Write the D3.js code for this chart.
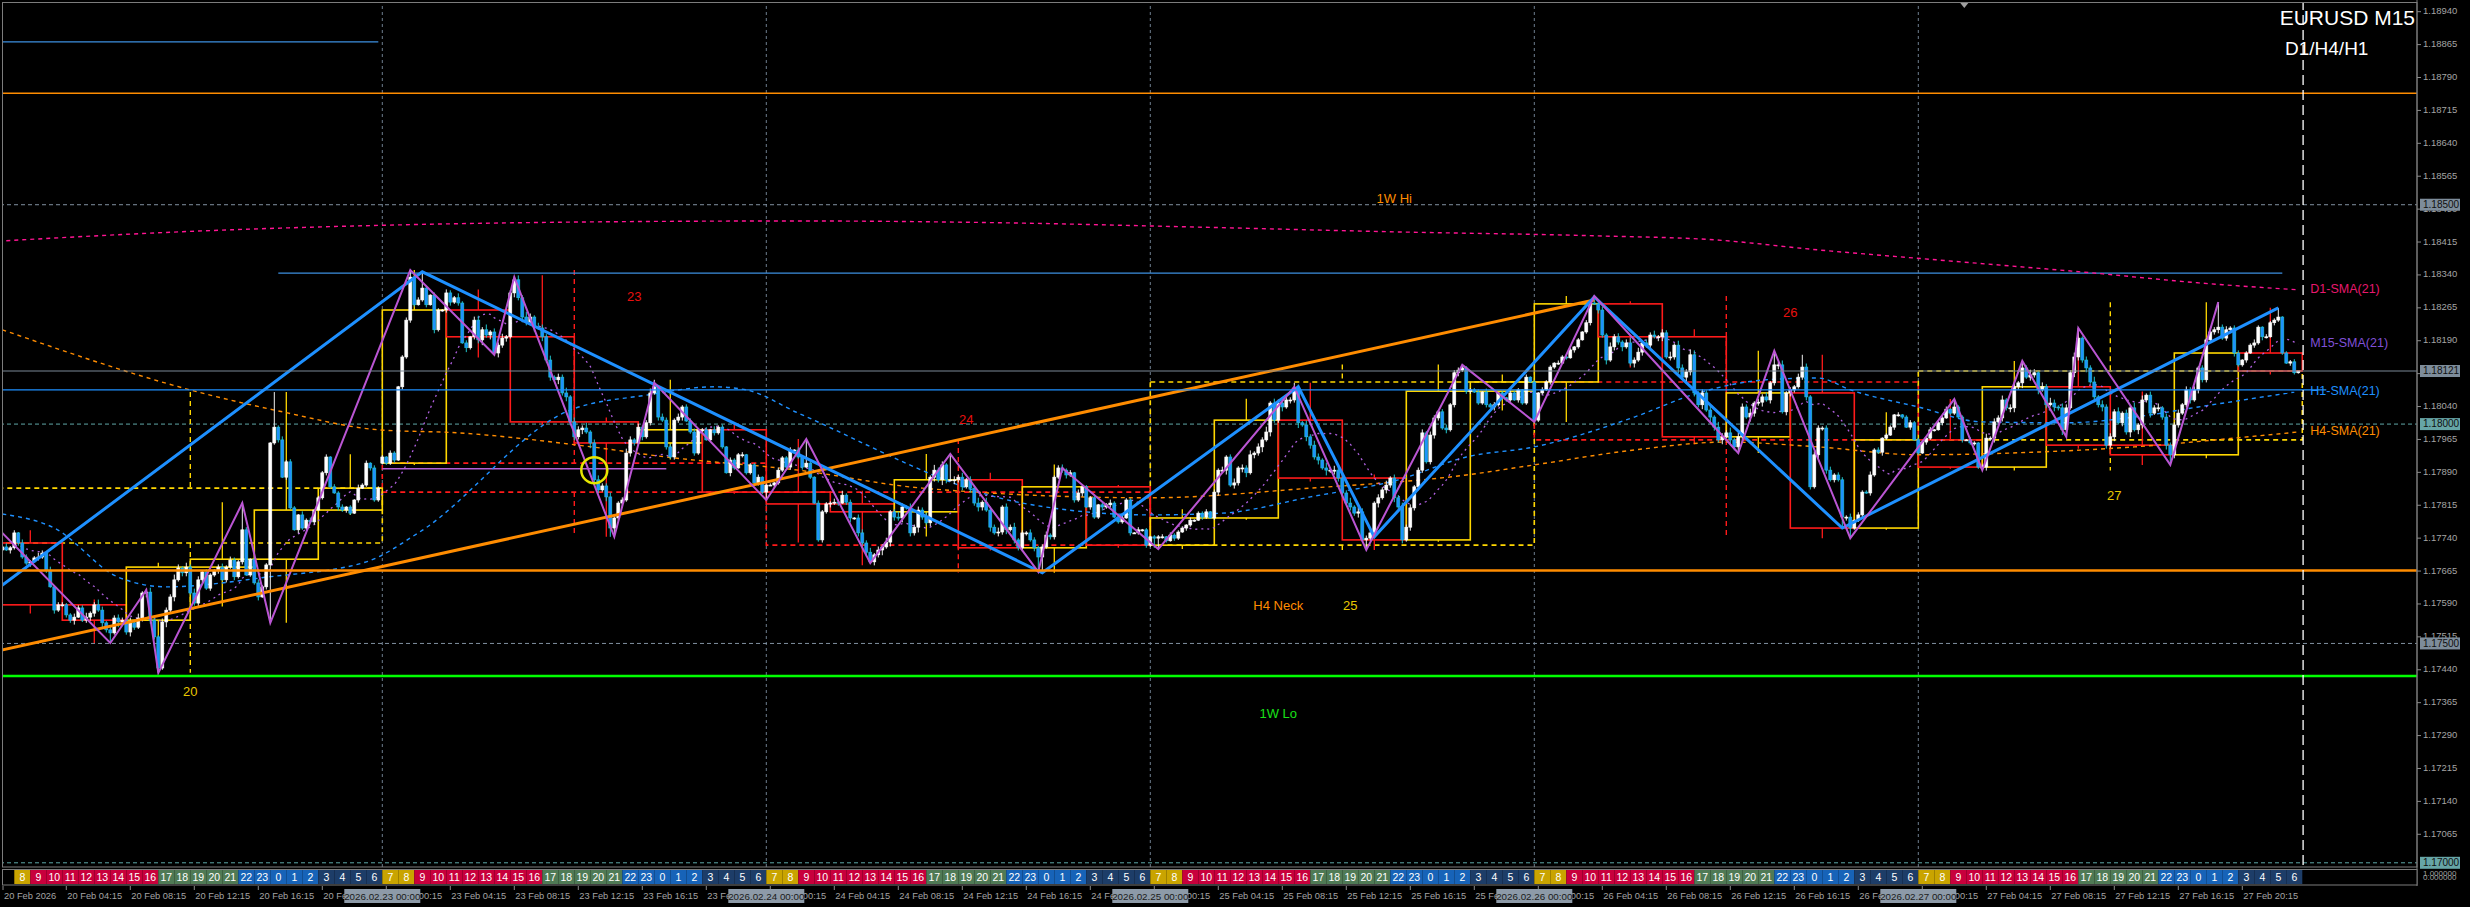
<!DOCTYPE html>
<html><head><meta charset="utf-8">
<script src="https://cdn.jsdelivr.net/npm/d3@7"></script>
<style>html,body{margin:0;padding:0;background:#000;overflow:hidden}svg{display:block}</style>
</head><body>
<svg id="chart" width="2470" height="907"></svg>
<script>
// ================= DATA =================
// prices are stored in points (1e-5) above PRICE_BASE
const PRICE_BASE = 1.17;
// EURUSD M15 closes, 20 Feb 2026 00:00 .. 27 Feb 2026 23:45 (one row = one H4 candle)
const closePts = [
713,720,713,718,752,729,697,683,686,695,697,706,667,629,576,588,
588,565,553,560,581,553,560,569,588,576,547,531,524,558,549,553,
526,547,537,558,615,617,553,515,444,549,576,606,645,672,661,674,
615,592,645,663,626,656,667,674,645,674,690,652,686,759,656,692,
638,606,629,679,957,993,964,879,914,809,759,793,763,781,777,804,
832,889,925,857,843,811,804,811,797,827,854,861,911,900,827,854,
925,911,934,918,1085,1153,1237,1335,1272,1283,1310,1272,1294,1215,1260,1260,
1299,1278,1288,1276,1185,1174,1199,1237,1192,1215,1203,1210,1162,1180,1196,1199,
1299,1329,1288,1244,1233,1244,1221,1219,1199,1146,1107,1101,1107,1071,1062,1005,
971,987,991,982,957,873,850,859,834,763,786,820,827,934,964,957,
993,971,1003,1071,1085,1016,1009,948,925,1009,1016,1039,1007,982,934,987,
987,964,987,980,993,948,889,918,900,930,930,889,907,866,879,845,
861,861,866,895,923,902,941,941,925,902,911,879,820,736,800,818,
820,822,820,838,822,786,786,752,729,708,686,702,713,720,731,800,
788,786,811,809,752,765,804,788,775,879,895,873,907,873,873,873,
879,857,873,854,820,811,822,804,765,752,754,811,759,765,736,718,
752,752,736,718,697,720,747,743,879,900,895,884,889,827,843,857,
811,832,788,816,811,816,820,788,777,786,827,752,752,759,759,724,
743,740,743,743,734,747,740,754,763,770,781,781,797,788,800,786,
845,895,895,925,861,866,900,900,889,930,934,948,964,982,1048,1009,
1048,1039,1055,1055,1082,1003,998,971,952,925,918,900,895,895,895,877,
843,820,811,797,800,736,740,752,820,832,850,861,877,832,811,736,
765,809,857,895,980,914,975,1014,1028,991,987,1044,1117,1123,1128,1075,
1078,1073,1048,1073,1044,1039,1044,1071,1060,1055,1071,1055,1078,1048,1107,1096,
1009,1071,1078,1096,1130,1139,1139,1153,1151,1169,1176,1192,1210,1231,1276,1274,
1260,1203,1146,1176,1199,1187,1176,1185,1139,1146,1164,1185,1180,1203,1199,1199,
1208,1153,1153,1180,1128,1107,1119,1158,1071,1044,1071,1032,1016,993,964,971,
980,964,948,971,1039,1016,1025,1048,1050,1062,1055,1094,1135,1135,1028,1071,
1078,1085,1107,1130,1062,857,930,991,991,895,873,884,873,788,788,763,
781,793,845,843,884,941,936,968,975,993,1021,1021,1016,993,1003,964,
934,959,968,987,987,1003,1014,1034,1025,1039,1016,964,964,957,957,902,
902,968,968,1005,1014,1055,1037,1037,1085,1094,1128,1107,1112,1117,1078,1085,
1044,1048,1039,1037,987,1037,1117,1153,1196,1146,1128,1096,1062,1044,1039,952,
971,1028,1003,1025,982,1037,987,998,1055,1066,1025,1037,1037,1016,952,930,
998,1025,1044,1078,1055,1078,1128,1101,1192,1210,1215,1221,1196,1215,1219,1162,
1135,1146,1162,1180,1185,1221,1199,1199,1231,1237,1244,1162,1139,1142,1117,1121
];
const firstOpenPts = 729;
const mondayBar = 96, mondayOpenPts = 911;
// wick lengths, one digit per bar, in units of WICK_UNIT_PTS points
const WICK_UNIT_PTS = 2;
const wickHiDigits = [
"324231432253142332243352364253432635245324336425354232134243223134221324232142312231323121423132",
"213212321322132143252314536243523453642543524362543624533542354242353243324233422314231322312231",
"221322313212132224352314435243523642534352634254352436254352435232432342234231432231324213221312",
"122313222131223132423524352436254253642535426354436254352435243534234243234233422231423121322131",
"213221323212132234253424635243524362543652435264362543524352435232434243234233241322423122131232",
"221312231322132135243524425364253642543552436253435243625243524334243423243234233122421322312230"];
const wickLoDigits = [
"231423224132314223351234425342633532454332635244234523241324231224132231321422131232142321312322",
"122313232123142234231523463525342536435253425354435263425243524334232423233412323123221421322132",
"213221322312123242313524352436254352436324536425342535425243524343243423323423241322423122131223",
"231221321322132124352435524362533524362543526354524352433524352424343234324234233122314212213221",
"122132212132123143524352352436255243625443526435254362543524352443234324342323422231322421322131",
"213221312213123224352435536243524253642543526354352436254352435243234243323423242231324213221321"];
// extra wick extremes [bar, pts]
const spikeHigh = [[61,822],[69,1073],[106,1347],[164,1101],[238,930],[451,1158],[570,1260]];
const spikeLow  = [[40,433],[68,547],[153,743],[192,827],[289,718]];
// M15 zigzag (violet)
const zzM15Bars = [1,28,37,40,61,68,103,124,129,154,164,192,202,218,238,260,266,290,324,342,366,384,399,435,444,463,489,496,506,517,520,543,555];
const zzM15Pts  = [752,501,622,433,820,547,1351,1158,1335,743,1094,827,966,683,932,663,900,715,1085,713,1135,1005,1292,934,1167,740,1057,895,1144,971,1219,907,1278];
// H1 zigzag (blue)
const zzH1Bars = [0,106,261,325,344,399,461,570];
const zzH1Pts  = [626,1347,661,1085,743,1290,763,1265];
// orange trend line
const trendBars = [0,399];
const trendPts  = [483,1283];
// higher-timeframe SMA(21) values
const smaH1Bars = [1,14,30,42,67,92,105,143,162,179,187,200,256,288,306,328,350,367,384,409,425,442,455,463,480,496,517,534,550,574];
const smaH1Pts  = [795,763,651,629,651,686,752,1032,1066,1085,1078,1025,820,793,797,834,873,925,948,1016,1071,1101,1105,1078,1039,1005,1003,1016,1039,1073];
const smaH4Bars = [1,50,71,95,115,145,167,200,231,288,328,367,384,409,432,455,480,509,534,559,575];
const smaH4Pts  = [1215,1073,1028,987,980,952,925,895,854,832,854,884,907,941,959,948,930,936,948,968,982];
const smaD1Bars = [0,50,100,150,200,250,300,350,400,429,455,485,523,550,575];
const smaD1Pts  = [1417,1440,1454,1461,1463,1459,1449,1438,1429,1420,1397,1374,1345,1322,1306];
const smaLabels = ["D1-SMA(21)","M15-SMA(21)","H1-SMA(21)","H4-SMA(21)"];
// horizontal levels
const levelWeekHi = 1.18754, levelH4Neck = 1.17666, levelWeekLo = 1.17426;
const levelBid = 1.18121, levelH1 = 1.18078;
const levelBlueHi = {from:70, to:571, price:1.18344};
const levelBlueTop = {from:0, to:95, price:1.18871};
const levelViolet = {from:96, to:167, price:1.17898};
const roundGray = [1.18500, 1.17500], roundTeal = [1.18000, 1.17000];
// annotations
const annTexts = ["23","24","26","25","20","27","1W Hi","H4 Neck","1W Lo"];
const annBars  = [159,242,448,338,48,529,349,320,320];
const annPts   = [1288,1009,1253,583,387,834,1511,583,337];
const annKinds = ["red","red","red","gold","gold","gold","orange","orange","green"];
const circleBar = 149, circlePts = 895;
// axes
const priceTicks = [1.17065,1.17140,1.17215,1.17290,1.17365,1.17440,1.17515,1.17590,1.17665,1.17740,1.17815,1.17890,1.17965,1.18040,1.18115,1.18190,1.18265,1.18340,1.18415,1.18490,1.18565,1.18640,1.18715,1.18790,1.18865,1.18940];
const priceMarks = [[1.18500,"gray"],[1.18121,"gray"],[1.18000,"teal"],[1.17500,"gray"],[1.17000,"teal"]];
const timeLabels = ["20 Feb 2026","20 Feb 04:15","20 Feb 08:15","20 Feb 12:15","20 Feb 16:15","20 Feb 20:15",
"23 Feb 00:15","23 Feb 04:15","23 Feb 08:15","23 Feb 12:15","23 Feb 16:15","23 Feb 20:15",
"24 Feb 00:15","24 Feb 04:15","24 Feb 08:15","24 Feb 12:15","24 Feb 16:15","24 Feb 20:15",
"25 Feb 00:15","25 Feb 04:15","25 Feb 08:15","25 Feb 12:15","25 Feb 16:15","25 Feb 20:15",
"26 Feb 00:15","26 Feb 04:15","26 Feb 08:15","26 Feb 12:15","26 Feb 16:15","26 Feb 20:15",
"27 Feb 00:15","27 Feb 04:15","27 Feb 08:15","27 Feb 12:15","27 Feb 16:15","27 Feb 20:15"];
const dayStartLabels = ["2026.02.23 00:00","2026.02.24 00:00","2026.02.25 00:00","2026.02.26 00:00","2026.02.27 00:00"];
const sessionOffsetHours = 7;

// ================= BUILD =================
const P = v => PRICE_BASE + v/1e5;
const N = closePts.length;
const closes = closePts.map(P);
const opens = closePts.map((c,i)=> i===0 ? P(firstOpenPts) : (i===mondayBar ? P(mondayOpenPts) : P(closePts[i-1])));
const wH = wickHiDigits.join(''), wL = wickLoDigits.join('');
const highs = closes.map((c,i)=> Math.max(opens[i],c) + (+(wH[i]||0))*WICK_UNIT_PTS/1e5);
const lows  = closes.map((c,i)=> Math.min(opens[i],c) - (+(wL[i]||0))*WICK_UNIT_PTS/1e5);
spikeHigh.forEach(([b,v])=>{highs[b]=Math.max(highs[b],P(v));});
spikeLow.forEach(([b,v])=>{lows[b]=Math.min(lows[b],P(v));});
function applyExt(bars,pts,skipFirst){bars.forEach((b,k)=>{ if(skipFirst&&k===0)return; const p=P(pts[k]); const mid=(opens[b]+closes[b])/2; if(p>=mid) highs[b]=Math.max(highs[b],p); else lows[b]=Math.min(lows[b],p);});}
applyExt(zzM15Bars,zzM15Pts,false);
applyExt(zzH1Bars,zzH1Pts,true);
const bars = closes.map((c,i)=>({i,o:opens[i],h:highs[i],l:lows[i],c}));
function agg(n){const out=[];for(let s=0;s<N;s+=n){const seg=bars.slice(s,s+n);out.push({s,n,o:seg[0].o,c:seg[seg.length-1].c,h:d3.max(seg,d=>d.h),l:d3.min(seg,d=>d.l)});}return out;}
const h4 = agg(16), d1 = agg(96);
const sma15 = closes.map((c,i)=>{const a=closes.slice(Math.max(0,i-20),i+1);return [i,d3.mean(a)];});

// ================= SCALES =================
const PLOT_R = 2417, MAIN_B = 867;
const FONT = 'Liberation Sans, Arial, sans-serif';
const x = d3.scaleLinear().domain([0,575]).range([-1.7,2298.3]);
const y = d3.scaleLinear().domain([1.17,1.1894]).range([862.8,11.7]);

const svg = d3.select('#chart');
svg.append('rect').attr('width',2470).attr('height',907).attr('fill','#000');
const defs = svg.append('defs');
defs.append('clipPath').attr('id','clipMain').append('rect').attr('x',2).attr('y',2).attr('width',PLOT_R-2).attr('height',MAIN_B-2);
const g = svg.append('g').attr('clip-path','url(#clipMain)');

// day separators
d3.range(96,N,96).forEach(b=>{
  g.append('line').attr('x1',x(b)).attr('x2',x(b)).attr('y1',0).attr('y2',MAIN_B)
   .attr('stroke','#6f7f8f').attr('stroke-width',1).attr('stroke-dasharray','3,3');
});
// round-number dashed levels
roundGray.forEach(p=>g.append('line').attr('x1',0).attr('x2',PLOT_R).attr('y1',y(p)).attr('y2',y(p)).attr('stroke','#8090a0').attr('stroke-dasharray','4,3'));
roundTeal.forEach(p=>g.append('line').attr('x1',0).attr('x2',PLOT_R).attr('y1',y(p)).attr('y2',y(p)).attr('stroke','#5fa8a8').attr('stroke-dasharray','4,3'));

// D1 boxes (dashed)
d1.forEach(d=>{
  const col = d.c>=d.o ? '#ffd700' : '#ff1a1a';
  const x0=x(d.s), x1=x(d.s+d.n), xm=x(d.s+d.n/2);
  const top=y(Math.max(d.o,d.c)), bot=y(Math.min(d.o,d.c));
  g.append('rect').attr('x',x0).attr('y',top).attr('width',x1-x0).attr('height',Math.max(1,bot-top))
    .attr('fill','none').attr('stroke',col).attr('stroke-width',1.6).attr('stroke-dasharray','5,4');
  g.append('line').attr('x1',xm).attr('x2',xm).attr('y1',y(d.h)).attr('y2',top).attr('stroke',col).attr('stroke-width',1.4).attr('stroke-dasharray','5,4');
  g.append('line').attr('x1',xm).attr('x2',xm).attr('y1',bot).attr('y2',y(d.l)).attr('stroke',col).attr('stroke-width',1.4).attr('stroke-dasharray','5,4');
});
// H4 boxes
h4.forEach(d=>{
  const col = d.c>=d.o ? '#ffd700' : '#ff1a1a';
  const x0=x(d.s), x1=x(d.s+d.n), xm=x(d.s+d.n/2);
  const top=y(Math.max(d.o,d.c)), bot=y(Math.min(d.o,d.c));
  g.append('rect').attr('x',x0).attr('y',top).attr('width',x1-x0).attr('height',Math.max(1,bot-top))
    .attr('fill','none').attr('stroke',col).attr('stroke-width',1.6);
  g.append('line').attr('x1',xm).attr('x2',xm).attr('y1',y(d.h)).attr('y2',top).attr('stroke',col).attr('stroke-width',1.3);
  g.append('line').attr('x1',xm).attr('x2',xm).attr('y1',bot).attr('y2',y(d.l)).attr('stroke',col).attr('stroke-width',1.3);
});
// violet short level
g.append('line').attr('x1',x(levelViolet.from)).attr('x2',x(levelViolet.to)).attr('y1',y(levelViolet.price)).attr('y2',y(levelViolet.price)).attr('stroke','#b25fd6').attr('stroke-width',1.5);
// blue levels
g.append('line').attr('x1',x(levelBlueHi.from)).attr('x2',x(levelBlueHi.to)).attr('y1',y(levelBlueHi.price)).attr('y2',y(levelBlueHi.price)).attr('stroke','#3c8fe0').attr('stroke-width',1.3);
g.append('line').attr('x1',x(levelBlueTop.from)).attr('x2',x(levelBlueTop.to)).attr('y1',y(levelBlueTop.price)).attr('y2',y(levelBlueTop.price)).attr('stroke','#3c8fe0').attr('stroke-width',1.3);

// SMA lines
const lineP = d3.line().x(d=>x(d[0])).y(d=>y(d[1])).curve(d3.curveMonotoneX);
const zipP = (b,p)=>b.map((v,k)=>[v,P(p[k])]);
g.append('path').attr('d',lineP(zipP(smaD1Bars,smaD1Pts))).attr('fill','none').attr('stroke','#ff1493').attr('stroke-width',1.4).attr('stroke-dasharray','4,4');
g.append('path').attr('d',lineP(zipP(smaH4Bars,smaH4Pts))).attr('fill','none').attr('stroke','#ff8c00').attr('stroke-width',1.4).attr('stroke-dasharray','4,4');
g.append('path').attr('d',lineP(zipP(smaH1Bars,smaH1Pts))).attr('fill','none').attr('stroke','#1e90ff').attr('stroke-width',1.4).attr('stroke-dasharray','4,4');
g.append('path').attr('d',d3.line().x(d=>x(d[0])).y(d=>y(d[1]))(sma15)).attr('fill','none').attr('stroke','#b060e0').attr('stroke-width',1.3).attr('stroke-dasharray','2,4');

// candles
const cg = g.append('g');
bars.forEach(d=>{
  const bull = d.c>=d.o, cx = x(d.i);
  cg.append('line').attr('x1',cx).attr('x2',cx).attr('y1',y(d.h)).attr('y2',y(d.l))
    .attr('stroke', bull ? '#f0f0f0' : '#22c7cf').attr('stroke-width',1);
  const top=y(Math.max(d.o,d.c)), bot=y(Math.min(d.o,d.c));
  cg.append('rect').attr('x',cx-1.5).attr('y',top).attr('width',3).attr('height',Math.max(1,bot-top))
    .attr('fill', bull ? '#ffffff' : '#1e90ff').attr('stroke', bull ? '#ffffff' : '#22c7cf').attr('stroke-width',0.6);
});

// trend line and zigzags
const lineL = d3.line().x(d=>x(d[0])).y(d=>y(d[1]));
g.append('path').attr('d',lineL(zipP(trendBars,trendPts))).attr('fill','none').attr('stroke','#ff8c00').attr('stroke-width',3);
g.append('path').attr('d',lineL(zipP(zzH1Bars,zzH1Pts))).attr('fill','none').attr('stroke','#1e90ff').attr('stroke-width',3);
g.append('path').attr('d',lineL(zipP(zzM15Bars,zzM15Pts))).attr('fill','none').attr('stroke','#ba55d3').attr('stroke-width',2);

// solid key levels
g.append('line').attr('x1',0).attr('x2',PLOT_R).attr('y1',y(levelWeekHi)).attr('y2',y(levelWeekHi)).attr('stroke','#ff8c00').attr('stroke-width',1.5);
g.append('line').attr('x1',0).attr('x2',PLOT_R).attr('y1',y(levelH4Neck)).attr('y2',y(levelH4Neck)).attr('stroke','#ff8c00').attr('stroke-width',2.5);
g.append('line').attr('x1',0).attr('x2',PLOT_R).attr('y1',y(levelWeekLo)).attr('y2',y(levelWeekLo)).attr('stroke','#00ff00').attr('stroke-width',2.5);
g.append('line').attr('x1',0).attr('x2',PLOT_R).attr('y1',y(levelBid)).attr('y2',y(levelBid)).attr('stroke','#7a8896').attr('stroke-width',1.2);
g.append('line').attr('x1',0).attr('x2',x(N+6)).attr('y1',y(levelH1)).attr('y2',y(levelH1)).attr('stroke','#1e90ff').attr('stroke-width',1.3);

// shift line
g.append('line').attr('x1',x(N+0.2)).attr('x2',x(N+0.2)).attr('y1',0).attr('y2',MAIN_B).attr('stroke','#ffffff').attr('stroke-width',1.3).attr('stroke-dasharray','10,5');

// annotations
const annColor = {red:'#e8100f',gold:'#e8c800',orange:'#ff8c00',green:'#18e018'};
annTexts.forEach((t,k)=>{
  g.append('text').attr('x',x(annBars[k])).attr('y',y(P(annPts[k]))).attr('text-anchor','middle').attr('dominant-baseline','middle')
   .attr('fill',annColor[annKinds[k]]).attr('font-family',FONT).attr('font-size',13).text(t);
});
g.append('circle').attr('cx',x(circleBar)).attr('cy',y(P(circlePts))).attr('r',13).attr('fill','none').attr('stroke','#e6e600').attr('stroke-width',2.5);

// SMA labels at the right end
const smaEnds = [P(smaD1Pts[smaD1Pts.length-1]), sma15[N-1][1], P(smaH1Pts[smaH1Pts.length-1]), P(smaH4Pts[smaH4Pts.length-1])];
const smaColors = ['#e8186e','#8050d8','#1e90ff','#ff8c00'];
smaLabels.forEach((t,k)=>{
  svg.append('text').attr('x',x(N+2)).attr('y',y(smaEnds[k])).attr('dominant-baseline','middle').attr('fill',smaColors[k])
    .attr('font-family',FONT).attr('font-size',12.5).text(t);
});

// frames
svg.append('rect').attr('x',2.5).attr('y',2.5).attr('width',PLOT_R-2.5).attr('height',MAIN_B-2.5).attr('fill','none').attr('stroke','#7c7c7c').attr('stroke-width',1);
svg.append('line').attr('x1',PLOT_R).attr('x2',PLOT_R).attr('y1',0).attr('y2',886).attr('stroke','#7c7c7c');
// top marker triangle
svg.append('path').attr('d',`M${x(491.5)-4},3 L${x(491.5)+4},3 L${x(491.5)},8 Z`).attr('fill','#a0a0a0');

// price axis
const ay = svg.append('g').attr('transform',`translate(${PLOT_R},0)`);
priceTicks.forEach(p=>{
  ay.append('line').attr('x1',0).attr('x2',4).attr('y1',y(p)).attr('y2',y(p)).attr('stroke','#8a8a8a');
  ay.append('text').attr('x',6).attr('y',y(p)).attr('dominant-baseline','middle').attr('fill','#a4a4a4')
    .attr('font-family',FONT).attr('font-size',9.5).text(d3.format('.5f')(p));
});
const markBg = {gray:'#7d8c9a', teal:'#66a5a6'};
priceMarks.forEach(([p,k])=>{
  ay.append('rect').attr('x',3).attr('y',y(p)-6).attr('width',40).attr('height',12).attr('fill',markBg[k]);
  ay.append('text').attr('x',6).attr('y',y(p)+0.5).attr('dominant-baseline','middle').attr('fill','#101010')
    .attr('font-family',FONT).attr('font-size',10).text(d3.format('.5f')(p));
});

// session strip
svg.append('rect').attr('x',2.5).attr('y',869.5).attr('width',PLOT_R-2.5).attr('height',15.5).attr('fill','#000').attr('stroke','#7c7c7c');
const sessCol = L => (L===7||L===8)?'#c9a400':(L>=9&&L<=16)?'#c8003c':(L>=17&&L<=21)?'#4f7a55':(L>=22||L<=2)?'#1763b8':'#1d3d68';
const strip = svg.append('g');
for(let h=1; h<N/4; h++){
  const L=(h%24+sessionOffsetHours)%24, x0=x(4*h), x1=x(4*h+4);
  strip.append('rect').attr('x',x0).attr('y',870).attr('width',x1-x0).attr('height',14).attr('fill',sessCol(L));
  strip.append('text').attr('x',(x0+x1)/2).attr('y',881).attr('text-anchor','middle').attr('fill','#ffffff')
    .attr('font-family',FONT).attr('font-size',10.5).text(L);
}
svg.append('text').attr('x',PLOT_R+6).attr('y',876).attr('fill','#a0a0a0').attr('font-family',FONT).attr('font-size',8).text('1.000000');
svg.append('text').attr('x',PLOT_R+6).attr('y',880).attr('fill','#a0a0a0').attr('font-family',FONT).attr('font-size',8).text('0.000000');

// time axis
const tickBars = [0].concat(d3.range(17,N,16));
tickBars.forEach((b,k)=>{
  const tx = Math.max(3,x(b));
  svg.append('line').attr('x1',tx).attr('x2',tx).attr('y1',886).attr('y2',890).attr('stroke','#8a8a8a');
  svg.append('text').attr('x',tx+1).attr('y',899).attr('fill','#a4a4a4').attr('font-family',FONT).attr('font-size',9.3).text(timeLabels[k]);
});
dayStartLabels.forEach((t,k)=>{
  const cx = x(96*(k+1));
  svg.append('rect').attr('x',cx-38).attr('y',889).attr('width',76).attr('height',14).attr('fill','#8d9aa8');
  svg.append('text').attr('x',cx).attr('y',899.5).attr('text-anchor','middle').attr('fill','#1a1a1a').attr('font-family',FONT).attr('font-size',9.8).text(t);
});

// title
svg.append('text').attr('x',2415).attr('y',25).attr('text-anchor','end').attr('fill','#ffffff').attr('font-family',FONT).attr('font-size',21).text('EURUSD M15');
svg.append('text').attr('x',2285).attr('y',55).attr('fill','#ffffff').attr('font-family',FONT).attr('font-size',19).text('D1/H4/H1');
</script>
</body></html>
